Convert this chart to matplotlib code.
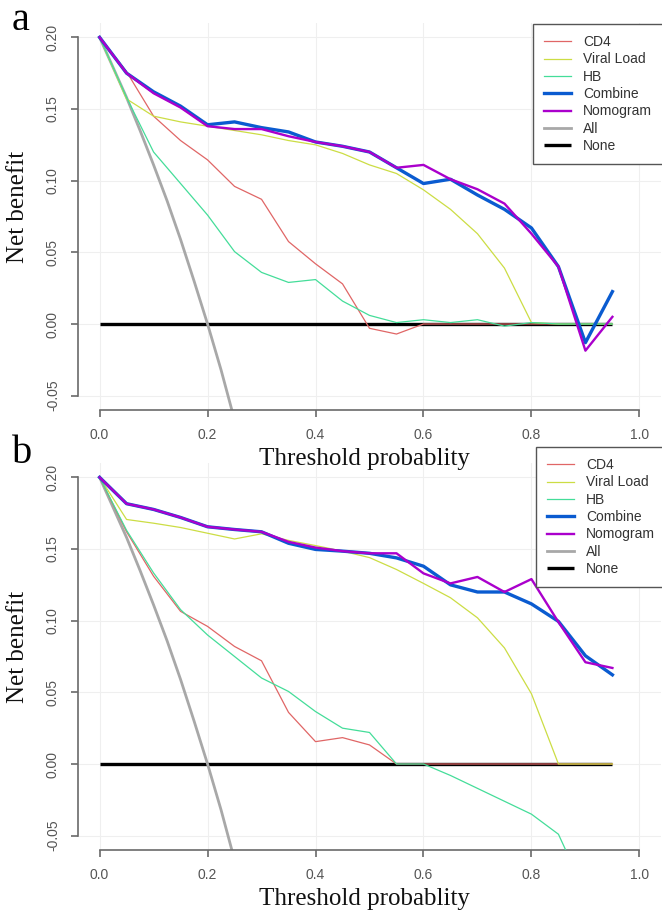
import matplotlib
matplotlib.use("Agg")
import matplotlib.pyplot as plt

thresholds = [0.00, 0.05, 0.10, 0.15, 0.20, 0.25, 0.30, 0.35, 0.40, 0.45,
              0.50, 0.55, 0.60, 0.65, 0.70, 0.75, 0.80, 0.85, 0.90, 0.95]

# Panel a
a_cd4 = [0.200, 0.176, 0.145, 0.128, 0.1145, 0.096, 0.087, 0.0575, 0.042, 0.028,
         -0.003, -0.007, 0.000, 0.000, 0.000, 0.000, 0.000, 0.000, 0.000, 0.000]
a_vl = [0.200, 0.157, 0.145, 0.141, 0.138, 0.135, 0.132, 0.128, 0.125, 0.119,
        0.111, 0.105, 0.0936, 0.080, 0.063, 0.039, 0.001, 0.000, 0.000, 0.000]
a_hb = [0.200, 0.158, 0.120, 0.098, 0.076, 0.0505, 0.036, 0.029, 0.031, 0.016,
        0.006, 0.001, 0.003, 0.001, 0.003, -0.0015, 0.001, 0.000, 0.000, 0.000]
a_combine = [0.200, 0.175, 0.162, 0.152, 0.139, 0.141, 0.137, 0.134, 0.127, 0.124,
             0.120, 0.109, 0.098, 0.101, 0.090, 0.080, 0.067, 0.040, -0.013, 0.0226]
a_nomogram = [0.200, 0.175, 0.161, 0.151, 0.138, 0.136, 0.136, 0.131, 0.127, 0.124,
              0.120, 0.109, 0.111, 0.101, 0.094, 0.084, 0.063, 0.040, -0.0186, 0.005]

# Panel b
b_cd4 = [0.200, 0.162, 0.131, 0.1065, 0.096, 0.082, 0.072, 0.036, 0.0156, 0.0184,
         0.0133, 0.000, 0.000, 0.000, 0.000, 0.000, 0.000, 0.000, 0.000, 0.000]
b_vl = [0.200, 0.1706, 0.168, 0.165, 0.161, 0.157, 0.1606, 0.156, 0.1524, 0.1485,
        0.144, 0.1357, 0.126, 0.116, 0.102, 0.081, 0.049, 0.000, 0.000, 0.000]
b_hb = [0.200, 0.163, 0.1333, 0.1077, 0.090, 0.075, 0.060, 0.0506, 0.0366, 0.025,
        0.022, 0.000, 0.000, -0.008, -0.017, -0.026, -0.035, -0.049, -0.090, -0.130]
b_combine = [0.200, 0.1816, 0.1776, 0.172, 0.1655, 0.1636, 0.162, 0.154, 0.1497, 0.1485,
             0.147, 0.1438, 0.138, 0.125, 0.120, 0.120, 0.1117, 0.0995, 0.0755, 0.0622]
b_nomogram = [0.200, 0.1816, 0.1776, 0.172, 0.1655, 0.1636, 0.162, 0.155, 0.151, 0.1485,
              0.147, 0.147, 0.133, 0.126, 0.1305, 0.120, 0.129, 0.099, 0.071, 0.067]

# Treat-all and treat-none
all_x = [0.000, 0.025, 0.050, 0.075, 0.100, 0.125, 0.150, 0.175, 0.200, 0.225, 0.250, 0.275]
all_y = [0.200, 0.179, 0.158, 0.135, 0.111, 0.086, 0.059, 0.030, 0.000, -0.032, -0.067, -0.103]
none_y = [0.0] * len(thresholds)

legend_labels = ["CD4", "Viral Load", "HB", "Combine", "Nomogram", "All", "None"]
colors = ["#E06666", "#CCDD44", "#44DD99", "#0A5BD0", "#AA00CC", "#A8A8A8", "#000000"]
widths = [0.9, 0.9, 0.9, 2.4, 1.7, 2.0, 2.4]

xticks = [0.0, 0.2, 0.4, 0.6, 0.8, 1.0]
yticks = [-0.05, 0.00, 0.05, 0.10, 0.15, 0.20]
xticklabels = ["0.0", "0.2", "0.4", "0.6", "0.8", "1.0"]
yticklabels = ["-0.05", "0.00", "0.05", "0.10", "0.15", "0.20"]

W, H = 662, 914
fig = plt.figure(figsize=(W / 100, H / 100), dpi=100)

SERIF = ["Liberation Serif", "DejaVu Serif"]
SANS = ["Liberation Sans", "DejaVu Sans"]


def panel(top_px, bottom_px, data, letter, letter_xy, legend_xy):
    left_px, right_px = 78, 661
    ax = fig.add_axes([left_px / W, 1 - bottom_px / H,
                       (right_px - left_px) / W, (bottom_px - top_px) / H])
    ax.patch.set_visible(False)
    ax.set_xlim(-0.04, 1.04)
    ax.set_ylim(-0.06, 0.21)
    hn, = ax.plot(thresholds, none_y, color=colors[6], lw=widths[6], zorder=2,
                  solid_capstyle="butt")
    ha, = ax.plot(all_x, all_y, color=colors[5], lw=widths[5], zorder=2.5)
    hs = []
    for i, ys in enumerate(data):
        h, = ax.plot(thresholds, ys, color=colors[i], lw=widths[i], zorder=3 + i * 0.1)
        hs.append(h)
    handles = hs + [ha, hn]
    ax.grid(True, color="#EFEFEF", lw=0.8, zorder=0)
    ax.set_axisbelow(True)
    for s in ["top", "right"]:
        ax.spines[s].set_visible(False)
    for s in ["left", "bottom"]:
        ax.spines[s].set_color("#6A6A6A")
        ax.spines[s].set_linewidth(1.2)
    ax.spines["left"].set_bounds(-0.05, 0.20)
    ax.spines["bottom"].set_bounds(0.0, 1.0)
    ax.set_xticks(xticks)
    ax.set_xticklabels(xticklabels, fontfamily=SANS, fontsize=10, color="#555555")
    ax.set_yticks(yticks)
    ax.set_yticklabels(yticklabels, fontfamily=SANS, fontsize=10, color="#555555",
                       rotation=90, va="center")
    ax.tick_params(axis="both", direction="out", length=5, width=1.2, color="#6A6A6A")
    ax.tick_params(axis="x", pad=8)
    ax.tick_params(axis="y", pad=8)
    ax.set_xlabel("Threshold probablity", fontfamily=SERIF, fontsize=18, color="#111111")
    ax.set_ylabel("Net benefit", fontfamily=SERIF, fontsize=18, color="#111111")
    h_px = bottom_px - top_px
    ax.xaxis.set_label_coords((364 - left_px) / (right_px - left_px), -(49 / h_px))
    ax.xaxis.label.set_va("center")
    ax.yaxis.set_label_coords((18 - left_px) / (right_px - left_px), 0.5 + 10 / h_px)
    ax.yaxis.label.set_va("center")
    fig.text(letter_xy[0] / W, 1 - letter_xy[1] / H, letter, fontfamily=SERIF,
             fontsize=29, color="#000000", ha="left", va="baseline")
    leg = ax.legend(handles, legend_labels, loc="upper left",
                    bbox_to_anchor=(legend_xy[0] / W, 1 - legend_xy[1] / H),
                    bbox_transform=fig.transFigure, borderaxespad=0,
                    prop={"family": SANS, "size": 10}, frameon=True, fancybox=False,
                    edgecolor="#555555", framealpha=1, handlelength=1.95,
                    handletextpad=0.85, labelspacing=0.24, borderpad=0.8)
    leg.get_frame().set_linewidth(1.0)
    for t in leg.get_texts():
        t.set_color("#333333")
    return ax


panel(23, 410, [a_cd4, a_vl, a_hb, a_combine, a_nomogram], "a", (12, 30), (533, 24))
panel(463, 850, [b_cd4, b_vl, b_hb, b_combine, b_nomogram], "b", (12, 463), (536, 447))

fig.savefig("out.png", dpi=100)
